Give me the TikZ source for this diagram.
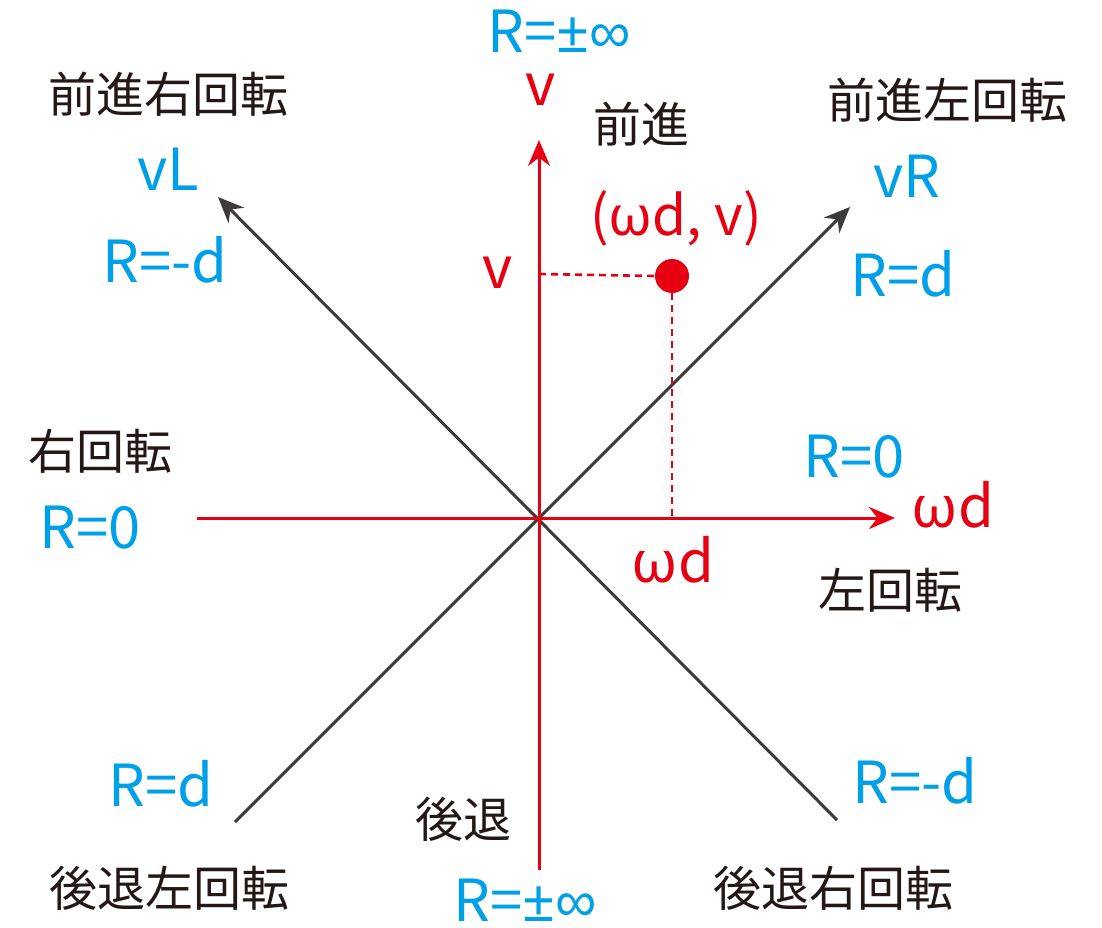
\documentclass[tikz,border=0pt]{standalone}
\usepackage{fontspec}
\setmainfont{Noto Sans CJK JP}
\newfontfamily\symfont{Noto Sans}
\newfontfamily\inffont{Liberation Sans}
\newcommand{\smb}[1]{{\symfont #1}}
\newcommand{\pminf}{{\symfont ±}{\inffont ∞}}
\usetikzlibrary{arrows.meta}
\definecolor{jred}{HTML}{E60012}
\definecolor{jcyan}{HTML}{00A0E9}
\definecolor{jtext}{HTML}{231815}
\definecolor{jline}{HTML}{3E3A39}
\tikzset{
  lat/.style={inner sep=0pt, anchor=base, font=\fontsize{58}{60}\selectfont},
  cyanlab/.style={lat, text=jcyan},
  redlab/.style={lat, text=jred},
  jplab/.style={inner sep=0pt, anchor=center, text=jtext, font=\fontsize{48}{50}\selectfont},
  axis/.style={jred, line width=3pt, -{Stealth[length=26pt, width=22pt]}},
  diag/.style={jline, line width=3pt, -{Stealth[length=26pt, width=22pt]}},
  guide/.style={jred, line width=2.6pt, dash pattern=on 7pt off 5pt},
}
\begin{document}
\begin{tikzpicture}[x=1pt, y=-1pt]
\useasboundingbox (0,0) rectangle (1102,928);
% coordinates
\coordinate (O) at (539,518);
\coordinate (vtop) at (539,140);
\coordinate (vbot) at (539,870);
\coordinate (hleft) at (197,518);
\coordinate (hright) at (895,518);
\coordinate (neend) at (850,207);
\coordinate (swend) at (235,822);
\coordinate (nwend) at (218,197);
\coordinate (seend) at (837,820);
\coordinate (vmark) at (539,274);
\coordinate (wmark) at (672,518);
% lines
\draw[diag] (swend) -- (neend);
\draw[diag] (seend) -- (nwend);
\draw[axis] (vbot) -- (vtop);
\draw[axis] (hleft) -- (hright);
\node[circle, fill=jred, inner sep=0pt, minimum size=34pt] (pt) at (672,276) {};
\draw[guide] (vmark) -- (pt.west);
\draw[guide] (pt.south) -- (wmark);
% latin labels
\node[cyanlab] (rinftop) at (559,53) {R=\pminf};
\node[redlab] (vaxis) at (541,106) {v};
\node[cyanlab] (vL) at (168,190) {vL};
\node[cyanlab] (vR) at (907,197) {vR};
\node[cyanlab] (rmdnw) at (165,282) {R=-d};
\node[cyanlab] (rdne) at (903,296) {R=d};
\node[redlab, font=\fontsize{55}{57}\selectfont] (ptlab) at (676,235) {(\smb{ω}d, v)};
\node[redlab] (vval) at (498,288) {v};
\node[cyanlab] (r0w) at (90,548) {R=0};
\node[cyanlab] (r0e) at (854,477) {R=0};
\node[redlab] (waxis) at (953,527) {\smb{ω}d};
\node[redlab] (wval) at (673,582) {\smb{ω}d};
\node[cyanlab] (rdsw) at (161,806) {R=d};
\node[cyanlab] (rmdse) at (915,803) {R=-d};
\node[cyanlab] (rinfbot) at (525,921) {R=\pminf};
% japanese labels
\node[jplab] (fwd) at (641,124) {前進};
\node[jplab] (fwdr) at (168,94) {前進右回転};
\node[jplab] (fwdl) at (947,100) {前進左回転};
\node[jplab] (rot r) at (100,451) {右回転};
\node[jplab] (rot l) at (890,590) {左回転};
\node[jplab] (back) at (463,819) {後退};
\node[jplab] (backl) at (169,888) {後退左回転};
\node[jplab] (backr) at (833,888) {後退右回転};
\end{tikzpicture}
\end{document}
